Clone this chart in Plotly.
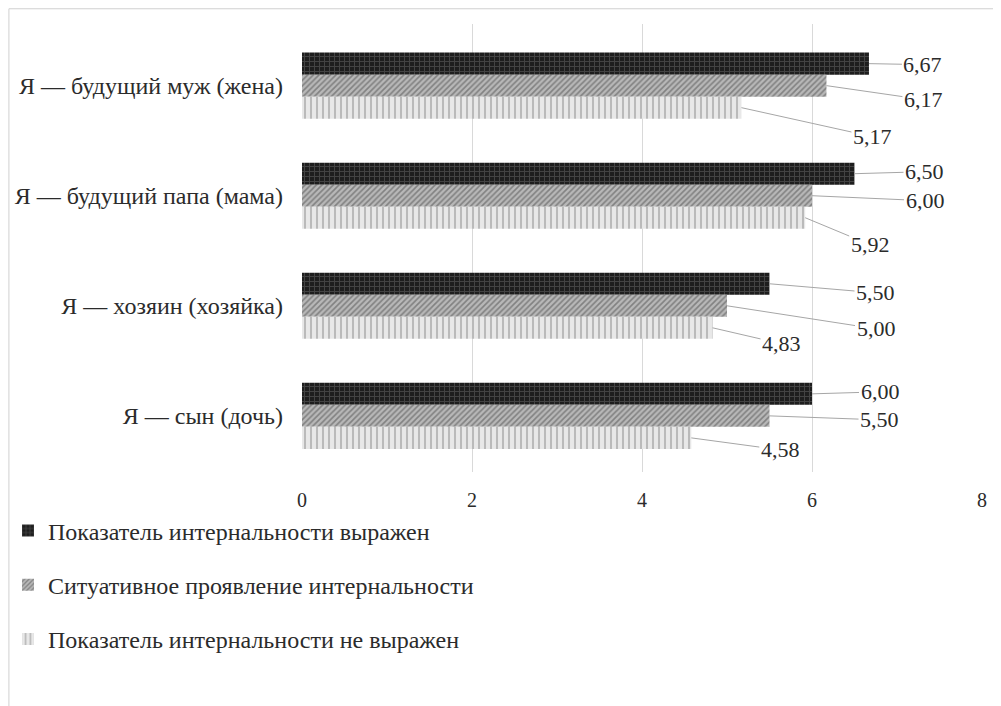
import plotly.graph_objects as go

categories = ["Я — будущий муж (жена)", "Я — будущий папа (мама)",
              "Я — хозяин (хозяйка)", "Я — сын (дочь)"]
series_names = ["Показатель интернальности выражен",
                "Ситуативное проявление интернальности",
                "Показатель интернальности не выражен"]
vals_expressed = [6.67, 6.50, 5.50, 6.00]
vals_situational = [6.17, 6.00, 5.00, 5.50]
vals_not_expressed = [5.17, 5.92, 4.83, 4.58]
x_ticks = [0, 2, 4, 6, 8]

series_values = [vals_expressed, vals_situational, vals_not_expressed]

# label offsets (pixels) for leader-line data labels, per series per category
label_offsets = [
    [(54, 1), (70, -2), (106, 9), (68, -2)],
    [(97, 14), (113, 5), (149, 23), (110, 4)],
    [(131, 29), (65, 27), (69, 16), (89, 12)],
]

styles = [
    dict(color="#1e1e1e", pattern=dict(shape="+", fgcolor="#6a6a6a", bgcolor="#1e1e1e", size=5, solidity=0.35)),
    dict(color="#9a9a9a", pattern=dict(shape="/", fgcolor="#4a4a4a", bgcolor="#b8b8b8", size=4, solidity=0.4)),
    dict(color="#dcdcdc", pattern=dict(shape="|", fgcolor="#8c8c8c", bgcolor="#e8e8e8", size=6, solidity=0.35)),
]

BARGAP = 0.4
n_series = len(series_values)
bar_w = (1 - BARGAP) / n_series

fig = go.Figure()
for j, (name, vals) in enumerate(zip(series_names, series_values)):
    fig.add_trace(go.Bar(
        y=categories, x=vals, orientation="h", name=name,
        marker=dict(color=styles[j]["color"], pattern=styles[j]["pattern"], line=dict(width=0)),
        legendgroup=f"g{j}",
    ))

annotations = []
for j, vals in enumerate(series_values):
    for i, v in enumerate(vals):
        ax, ay = label_offsets[j][i]
        annotations.append(dict(
            x=v, y=i + (j - 1) * bar_w, xref="x", yref="y",
            text=f"{v:.2f}".replace(".", ","),
            showarrow=True, arrowhead=0, arrowwidth=1, arrowcolor="#a6a6a6",
            ax=ax, ay=ay, standoff=0, startstandoff=0,
            font=dict(family="Liberation Serif", size=22, color="#2b2b2b"),
        ))

fig.update_layout(
    width=993, height=698,
    margin=dict(l=294, r=19, t=16, b=234, autoexpand=False),
    paper_bgcolor="white", plot_bgcolor="white",
    barmode="group", bargap=BARGAP, bargroupgap=0,
    font=dict(family="Liberation Serif", size=23, color="#2b2b2b"),
    xaxis=dict(range=[0, 8], tickvals=x_ticks, showgrid=True, gridcolor="#d9d9d9",
               gridwidth=1, zeroline=False, showline=False, ticks="",
               tickfont=dict(size=20), ticklabelstandoff=14, automargin=False),
    yaxis=dict(range=[3.51, -0.56], type="category", showgrid=False, ticks="",
               showline=False, tickfont=dict(size=24), ticklabelstandoff=18,
               automargin=False),
    legend=dict(xref="container", yref="container", x=0.0, y=0.283,
                xanchor="left", yanchor="top",
                orientation="v", tracegroupgap=20,
                font=dict(size=24, color="#2b2b2b"), bgcolor="rgba(0,0,0,0)"),
    annotations=annotations,
    shapes=[dict(type="rect", xref="paper", yref="paper",
                 x0=-0.431, x1=1.05, y0=-0.56, y1=1.034,
                 line=dict(color="#d0d0d0", width=1))],
    showlegend=True,
)

fig.write_html("out.html")
